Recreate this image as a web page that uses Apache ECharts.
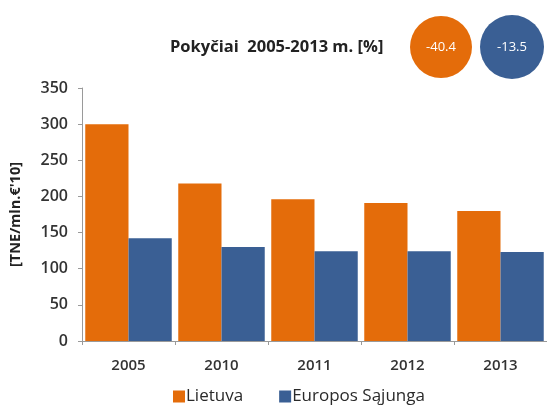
<!DOCTYPE html>
<html>
<head>
<meta charset="utf-8">
<script src="https://cdn.jsdelivr.net/npm/echarts@6/dist/echarts.min.js"></script>
<style>
html,body{margin:0;padding:0;background:#fff;}
#chart{width:547px;height:406px;}
</style>
</head>
<body>
<div id="chart"></div>
<script>
const categories = ['2005', '2010', '2011', '2012', '2013'];
const lietuva = [300, 218, 196, 191, 180];
const europos = [142, 130, 124, 124, 123];
const seriesNames = ['Lietuva', 'Europos Sąjunga'];
const changeTitle = 'Pokyčiai  2005-2013 m. [%]';
const changeValues = ['-40.4', '-13.5'];
const yAxisName = "[TNE/mln.€'10]";

const ORANGE = '#E46C0A';
const BLUE = '#3A5F94';
const FONT = 'Open Sans';

const chart = echarts.init(document.getElementById('chart'));
chart.setOption({
  animation: false,
  backgroundColor: '#fff',
  textStyle: { fontFamily: FONT },
  grid: { left: 81, right: 0, top: 88, bottom: 65, containLabel: false },
  legend: {
    bottom: -4,
    left: 168,
    itemWidth: 12,
    itemHeight: 12,
    itemGap: 36,
    icon: 'rect',
    textStyle: { fontFamily: FONT, fontSize: 17, color: '#2a2a2a', padding: [0, 0, 0, -4] },
    data: seriesNames
  },
  xAxis: {
    type: 'category',
    data: categories,
    axisLine: { lineStyle: { color: '#9a9a9a', width: 1 } },
    axisTick: { show: true, length: 4, lineStyle: { color: '#9a9a9a' } },
    axisLabel: { fontFamily: FONT, fontSize: 15, fontWeight: 600, color: '#333', margin: 17 }
  },
  yAxis: {
    type: 'value',
    min: 0,
    max: 350,
    interval: 50,
    name: yAxisName,
    nameLocation: 'middle',
    nameGap: 59,
    nameTextStyle: { fontFamily: FONT, fontSize: 14.5, fontWeight: 'bold', color: '#222' },
    axisLine: { show: true, lineStyle: { color: '#9a9a9a', width: 1 } },
    axisTick: { show: true, length: 4, lineStyle: { color: '#9a9a9a' } },
    splitLine: { show: false },
    axisLabel: { fontFamily: FONT, fontSize: 16, fontWeight: 600, color: '#333', margin: 14 }
  },
  series: [
    {
      name: seriesNames[0], type: 'bar', data: lietuva,
      itemStyle: { color: ORANGE }, barGap: '0%', barCategoryGap: '7%'
    },
    {
      name: seriesNames[1], type: 'bar', data: europos,
      itemStyle: { color: BLUE }, barGap: '0%', barCategoryGap: '7%'
    }
  ],
  graphic: [
    {
      type: 'text', x: 170, y: 47,
      style: { text: changeTitle, fontFamily: FONT, fontSize: 16.5, fontWeight: 'bold', fill: '#222', verticalAlign: 'middle' }
    },
    {
      type: 'circle', shape: { cx: 441, cy: 47, r: 31 },
      style: { fill: ORANGE }
    },
    {
      type: 'text', x: 441, y: 47,
      style: { text: changeValues[0], fontFamily: FONT, fontSize: 13, fill: '#fff', align: 'center', verticalAlign: 'middle' }
    },
    {
      type: 'circle', shape: { cx: 512, cy: 47, r: 32 },
      style: { fill: BLUE }
    },
    {
      type: 'text', x: 512, y: 47,
      style: { text: changeValues[1], fontFamily: FONT, fontSize: 13, fill: '#fff', align: 'center', verticalAlign: 'middle' }
    }
  ]
});
</script>
</body>
</html>
